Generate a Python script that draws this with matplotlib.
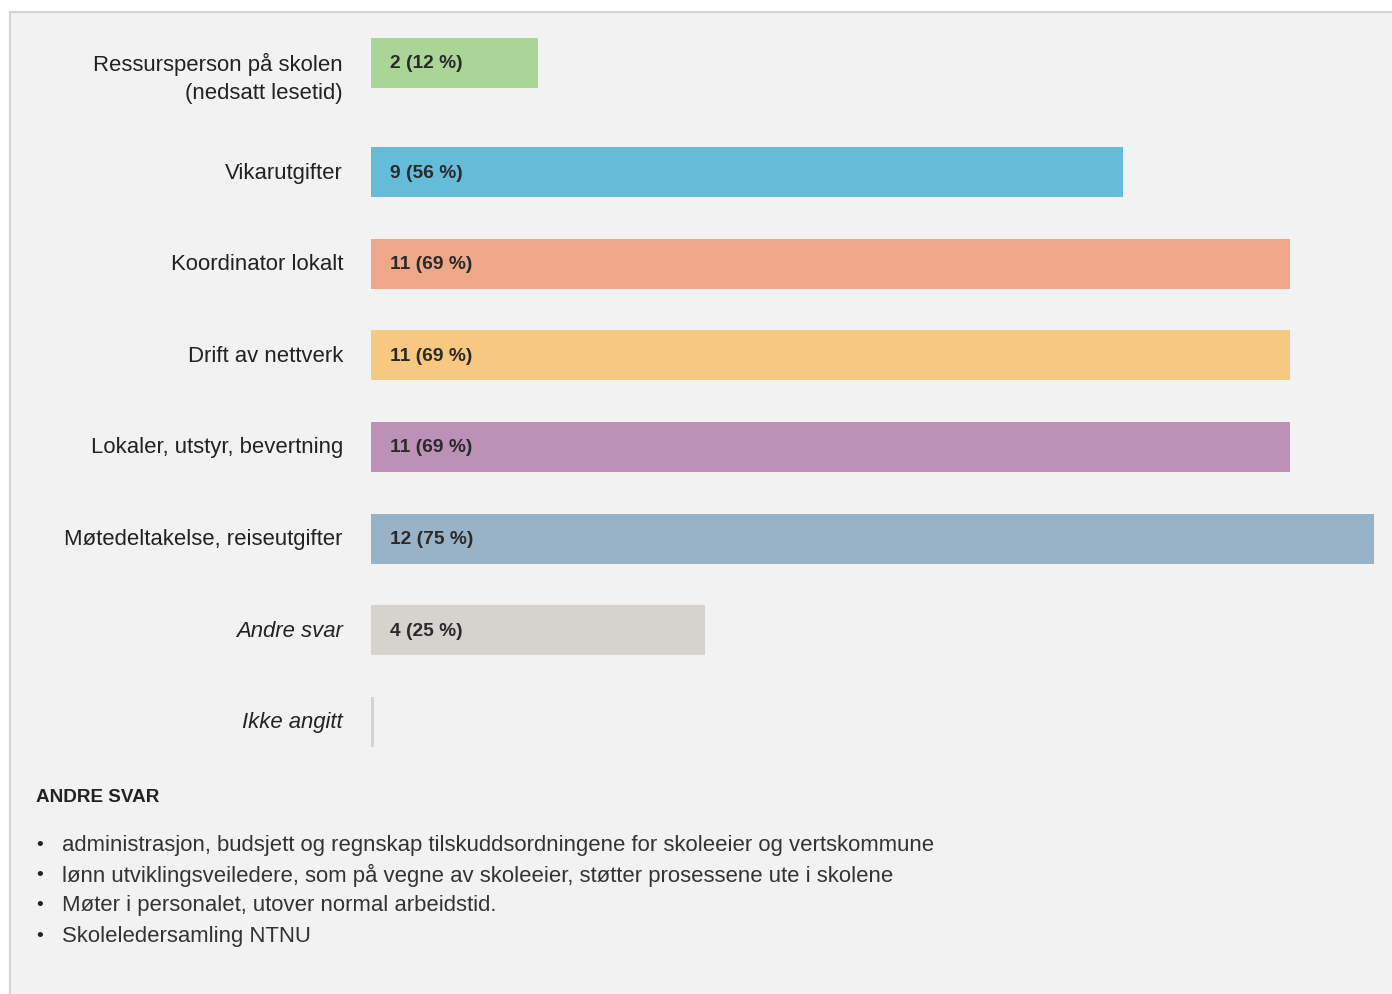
import matplotlib.pyplot as plt
from matplotlib.patches import Rectangle
from matplotlib.transforms import blended_transform_factory

categories = ['Ressursperson på skolen\n(nedsatt lesetid)', 'Vikarutgifter', 'Koordinator lokalt',
              'Drift av nettverk', 'Lokaler, utstyr, bevertning', 'Møtedeltakelse, reiseutgifter',
              'Andre svar', 'Ikke angitt']
counts = [2, 9, 11, 11, 11, 12, 4, 0]
percents = [12, 56, 69, 69, 69, 75, 25, 0]
italic_cats = ['Andre svar', 'Ikke angitt']
colors = ['#a9d597', '#64bcd9', '#eea788', '#f6c880', '#bc91b7', '#98b2c8', '#d6d3ce', '#d6d3ce']

other_title = 'ANDRE SVAR'
other_answers = ['administrasjon, budsjett og regnskap tilskuddsordningene for skoleeier og vertskommune',
                 'lønn utviklingsveiledere, som på vegne av skoleeier, støtter prosessene ute i skolene',
                 'Møter i personalet, utover normal arbeidstid.',
                 'Skoleledersamling NTNU']

W, H = 1392, 994
plt.rcParams['font.family'] = ['Liberation Sans', 'DejaVu Sans']
fig = plt.figure(figsize=(W / 100, H / 100), dpi=100, facecolor='white')

# panel background with border on top and left (right/bottom run off the figure)
fig.patches.append(Rectangle((10 / W, -0.05), 1.1, 1.05 - 12 / H, transform=fig.transFigure,
                             facecolor='#f2f2f2', edgecolor='#d4d4d4', linewidth=1.5, zorder=-5))

bar_x0, bar_x1 = 371, 1374
ax = fig.add_axes([bar_x0 / W, 0, (bar_x1 - bar_x0) / W, 1])
ax.set_xlim(0, max(counts))
ax.set_ylim(H, 0)
ax.axis('off')
ax.patch.set_alpha(0)

# row centres (pixels from top); first row is taller because of its two-line label
ys = []
for i, lab in enumerate(categories):
    ys.append(63 if i == 0 else 80.5 + 91.6 * i)

widths = [max(c, 0.035) for c in counts]
ax.barh(ys, widths, height=50, color=colors, edgecolor='none')

lab_tr = blended_transform_factory(fig.transFigure, ax.transData)
for y, lab, c, p in zip(ys, categories, counts, percents):
    style = 'italic' if lab in italic_cats else 'normal'
    for k, line in enumerate(lab.split('\n')):
        ax.text(343 / W, y + 1 + 29.5 * k, line, transform=lab_tr, ha='right', va='center',
                fontsize=15.9, color='#222222', style=style)
    if c > 0:
        ax.text(390 / W, y + 1, f'{c} ({p} %)', transform=lab_tr, ha='left', va='center',
                fontsize=13.8, fontweight='bold', color='#2a2a2a')

fig.text(36 / W, 1 - 798 / H, other_title, ha='left', va='center', fontsize=13.6,
         fontweight='bold', color='#222222')
for k, ans in enumerate(other_answers):
    yy = 1 - (845 + 30.5 * k) / H
    fig.text(36 / W, yy, '•', ha='left', va='center', fontsize=14, color='#222222')
    fig.text(62 / W, yy, ans, ha='left', va='center', fontsize=15.9, color='#333333')

fig.savefig('out.png', dpi=100, facecolor='white')
